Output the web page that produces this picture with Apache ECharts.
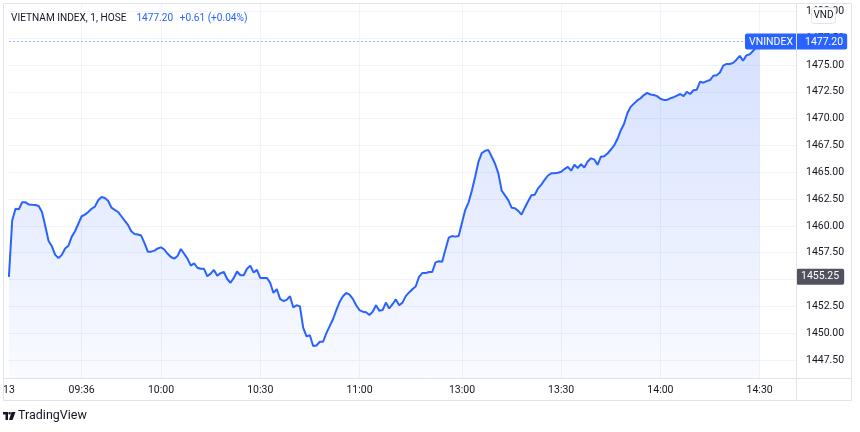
<!DOCTYPE html>
<html>
<head>
<meta charset="utf-8">
<script src="https://cdn.jsdelivr.net/npm/echarts@6/dist/echarts.min.js"></script>
<style>
html,body{margin:0;padding:0;background:#fff;}
#chart{width:860px;height:432px;}
</style>
</head>
<body>
<div id="chart"></div>
<script>
// ---- data ----
const titleText = 'VIETNAM INDEX, 1, HOSE';
const lastPrice = '1477.20';
const changeText = '+0.61 (+0.04%)';
const refLevel = 1455.25;
const seriesName = 'VNINDEX';
const unitText = 'VND';

// minute bars: 09:00 (open), 09:15-11:30, 13:00-14:30 (+ empty space after)
function minutes(a, b) {
  const out = [];
  const toM = s => parseInt(s.slice(0, 2)) * 60 + parseInt(s.slice(3));
  for (let m = toM(a); m <= toM(b); m++) {
    out.push(String(Math.floor(m / 60)).padStart(2, '0') + ':' + String(m % 60).padStart(2, '0'));
  }
  return out;
}
const categories = ['09:00'].concat(minutes('09:15', '11:30'), minutes('13:00', '14:41'));

const xTickTimes = ['09:00', '09:36', '10:00', '10:30', '11:00', '13:00', '13:30', '14:00', '14:30'];
const xTickTexts = ['13', '09:36', '10:00', '10:30', '11:00', '13:00', '13:30', '14:00', '14:30'];
const yTicks = [1447.5, 1450, 1452.5, 1455, 1457.5, 1460, 1462.5, 1465, 1467.5, 1470, 1472.5, 1475, 1477.5, 1480];

const values = [
1455.25,1460.5,1461.6,1461.55,1462.2,1462.2,1462.0,1461.97,1461.95,1461.85,
1461.3,1460.0,1458.6,1458.1,1457.3,1457.0,1457.3,1457.9,1458.15,1459.0,
1459.5,1460.2,1460.9,1461.05,1461.3,1461.6,1461.8,1462.4,1462.7,1462.6,
1462.35,1461.7,1461.5,1461.3,1460.9,1460.5,1460.1,1459.5,1459.25,1459.2,
1459.1,1458.4,1457.6,1457.6,1457.7,1457.9,1458.0,1457.8,1457.4,1457.1,
1456.95,1457.2,1457.85,1457.4,1456.95,1456.3,1456.5,1456.1,1456.0,1456.0,
1455.3,1455.55,1455.9,1455.35,1455.6,1455.7,1455.05,1454.7,1455.15,1455.75,
1455.4,1455.4,1456.0,1456.3,1455.65,1455.9,1455.15,1455.15,1455.15,1454.7,
1453.75,1454.1,1453.2,1453.0,1453.1,1453.45,1452.4,1452.6,1452.5,1450.5,
1449.7,1449.8,1448.8,1448.85,1449.2,1449.2,1450.0,1450.65,1451.3,1452.15,
1452.9,1453.45,1453.75,1453.6,1453.2,1452.6,1452.15,1452.0,1451.95,1451.7,
1452.0,1452.6,1452.1,1452.15,1452.85,1452.3,1452.7,1453.15,1452.6,1452.85,
1453.45,1453.8,1454.1,1454.35,1455.25,1455.6,1455.6,1455.7,1455.7,1456.6,
1456.7,1456.65,1457.8,1458.9,1459.05,1459.0,1459.05,
1460.3,1461.5,1462.2,1463.3,1464.6,1466.0,1466.8,1467.0,1467.07,1466.45,
1465.8,1464.9,1463.3,1462.85,1462.4,1461.7,1461.65,1461.4,1461.05,1461.7,
1462.3,1462.85,1462.9,1463.5,1463.85,1464.3,1464.7,1464.9,1464.9,1464.95,
1465.05,1465.3,1465.5,1465.15,1465.7,1465.4,1465.75,1465.45,1466.0,1466.3,
1466.2,1465.7,1466.45,1466.5,1466.75,1467.1,1467.5,1468.1,1468.9,1469.5,
1470.5,1471.1,1471.4,1471.7,1471.9,1472.2,1472.4,1472.25,1472.2,1472.1,
1471.85,1471.75,1471.75,1471.9,1472.0,1472.15,1472.3,1472.1,1472.5,1472.3,
1472.65,1472.7,1473.45,1473.35,1473.5,1473.6,1474.0,1474.05,1474.3,1474.95,
1475.1,1475.1,1475.2,1475.5,1475.85,1475.4,1475.9,1476.0,1476.3,1476.7,
1477.2
];

// ---- chart ----
const FONT = 'Roboto, "Liberation Sans", sans-serif';
const TXT = '#131722';
const BLUE = '#2962ff';
const BORDER = '#e0e3eb';
const GRIDC = '#f0f3fa';

const chart = echarts.init(document.getElementById('chart'), null, {renderer: 'canvas'});
const lastVal = values[values.length - 1];
const tickSet = new Set(xTickTimes);

const option = {
  animation: false,
  backgroundColor: '#ffffff',
  textStyle: {fontFamily: FONT},
  grid: {left: 5, right: 64, top: 4, bottom: 54, containLabel: false},
  xAxis: {
    type: 'category',
    data: categories,
    boundaryGap: false,
    axisLine: {show: false},
    axisTick: {show: false},
    axisLabel: {
      interval: (idx, val) => tickSet.has(val),
      formatter: val => xTickTexts[xTickTimes.indexOf(val)],
      color: TXT, fontSize: 10.5, fontFamily: FONT, margin: 7
    },
    splitLine: {
      show: true,
      interval: (idx, val) => tickSet.has(val) && idx > 0,
      lineStyle: {color: GRIDC, width: 1}
    }
  },
  yAxis: {
    type: 'value',
    position: 'right',
    min: 1445.82,
    max: 1480.69,
    axisLine: {show: false},
    axisTick: {show: false, customValues: yTicks},
    axisLabel: {
      customValues: yTicks,
      formatter: v => v.toFixed(2),
      color: TXT, fontSize: 10.5, fontFamily: FONT, margin: 10
    },
    splitLine: {show: true, lineStyle: {color: GRIDC, width: 1}}
  },
  series: [{
    name: seriesName,
    type: 'line',
    data: values,
    symbol: 'none',
    clip: false,
    lineStyle: {color: BLUE, width: 2},
    itemStyle: {color: BLUE},
    areaStyle: {
      origin: 'start',
      color: new echarts.graphic.LinearGradient(0, 0, 0, 1, [
        {offset: 0, color: 'rgba(41,98,255,0.28)'},
        {offset: 1, color: 'rgba(41,98,255,0.04)'}
      ])
    },
    markLine: {
      silent: true,
      symbol: ['none', 'none'],
      animation: false,
      data: [
        {
          yAxis: lastVal,
          lineStyle: {type: [2, 2], color: 'rgba(41,98,255,0.5)', width: 1},
          label: {
            show: true, position: 'end', distance: 0, offset: [-51, 0],
            formatter: '{n|' + seriesName + '}{v|' + lastPrice + '}',
            backgroundColor: BLUE, padding: [3, 4, 2, 4], borderRadius: 2,
            rich: {
              n: {color: '#fff', fontSize: 10.5, fontFamily: FONT, width: 56},
              v: {color: '#fff', fontSize: 10.5, fontFamily: FONT}
            }
          }
        },
        {
          yAxis: refLevel,
          lineStyle: {color: 'rgba(0,0,0,0)', width: 0},
          label: {
            show: true, position: 'end', distance: 0,
            formatter: refLevel.toFixed(2),
            color: '#ffffff', fontSize: 10.5, fontFamily: FONT,
            backgroundColor: '#50535e', padding: [3, 5, 2, 5], borderRadius: 2
          }
        }
      ]
    }
  }],
  graphic: [
    // chart frame
    {type: 'rect', z: 50, silent: true, shape: {x: 3.5, y: 3.5, width: 848, height: 397},
      style: {fill: null, stroke: BORDER, lineWidth: 1}},
    {type: 'line', z: 50, silent: true, shape: {x1: 796.5, y1: 3.5, x2: 796.5, y2: 400.5},
      style: {stroke: BORDER, lineWidth: 1}},
    {type: 'line', z: 50, silent: true, shape: {x1: 3.5, y1: 378.5, x2: 851.5, y2: 378.5},
      style: {stroke: BORDER, lineWidth: 1}},
    // header legend
    {type: 'text', z: 60, left: 11, top: 12,
      style: {
        text: '{t|' + titleText + '}   {p|' + lastPrice + '}  {p|' + changeText + '}',
        rich: {
          t: {fill: TXT, fontSize: 10.1, fontFamily: FONT},
          p: {fill: BLUE, fontSize: 10.1, fontFamily: FONT}
        }
      }},
    // unit badge
    {type: 'rect', z: 60, shape: {x: 811.5, y: 7.5, width: 24, height: 16, r: 3},
      style: {fill: '#fff', stroke: BORDER, lineWidth: 1}},
    {type: 'text', z: 61, x: 823.5, y: 15.5,
      style: {text: unitText, fill: TXT, fontSize: 10, fontFamily: FONT, align: 'center', verticalAlign: 'middle'}},
    // TradingView logo
    {type: 'rect', z: 60, shape: {x: 3, y: 412, width: 5, height: 2.5}, style: {fill: '#131722'}},
    {type: 'rect', z: 60, shape: {x: 5.5, y: 412, width: 2.5, height: 8}, style: {fill: '#131722'}},
    {type: 'circle', z: 60, shape: {cx: 9.6, cy: 413.3, r: 1.3}, style: {fill: '#131722'}},
    {type: 'polygon', z: 60, shape: {points: [[11.5, 412], [15.5, 412], [12.5, 420], [9, 420]]}, style: {fill: '#131722'}},
    {type: 'text', z: 60, left: 18, top: 409,
      style: {text: 'TradingView', fill: TXT, fontSize: 12.5, fontFamily: FONT}}
  ]
};
chart.setOption(option);
</script>
</body>
</html>
